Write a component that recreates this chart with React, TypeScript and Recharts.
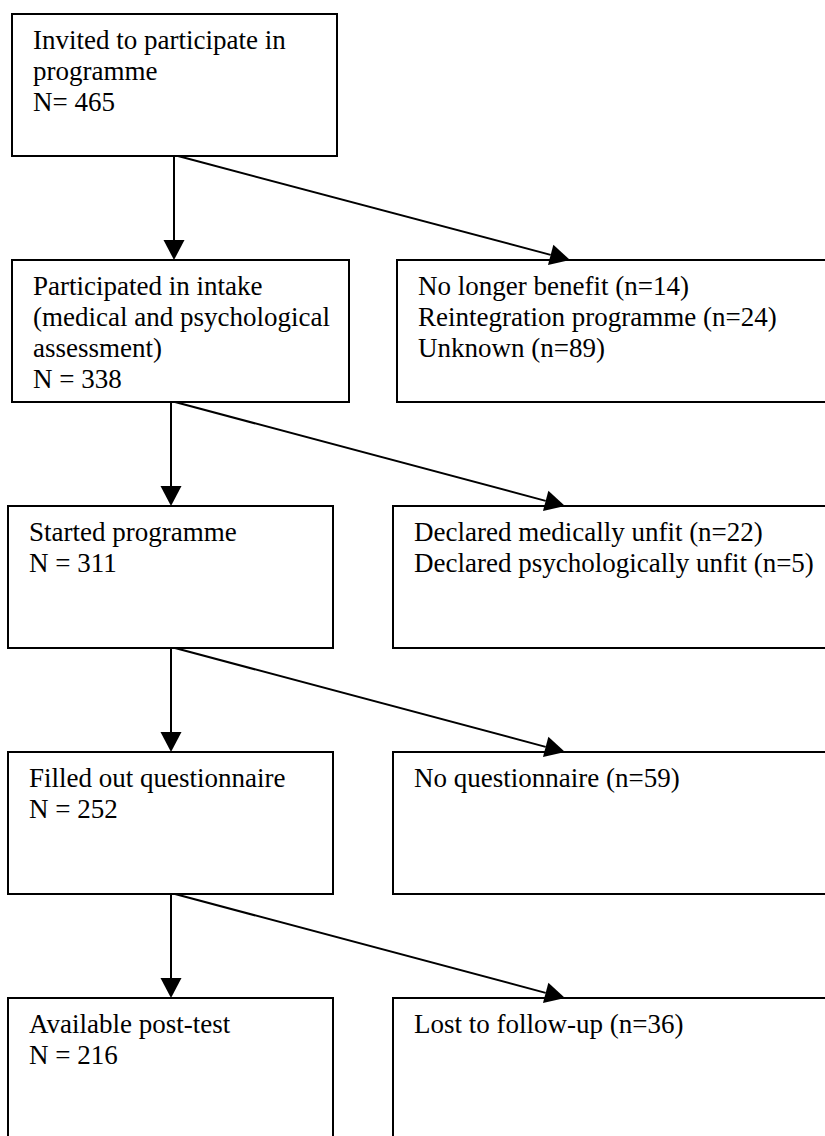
import { ComposedChart, ReferenceArea, ReferenceLine, XAxis, YAxis } from "recharts";

// flow of participants, top to bottom
const stageLabels = [
  ["Invited to participate in", "programme"],
  ["Participated in intake", "(medical and psychological", "assessment)"],
  ["Started programme"],
  ["Filled out questionnaire"],
  ["Available post-test"],
];
const stageCounts = [465, 338, 311, 252, 216];

// reasons for dropping out between two stages
const exclusionReasons = [
  ["No longer benefit", "Reintegration programme", "Unknown"],
  ["Declared medically unfit", "Declared psychologically unfit"],
  ["No questionnaire"],
  ["Lost to follow-up"],
];
const exclusionCounts = [[14, 24, 89], [22, 5], [59], [36]];

// layout, in page pixels
const WIDTH = 825;
const HEIGHT = 1136;
const ROW_START = 14;
const ROW_STEP = 246;
const BOX_HEIGHT = 142;
const leftBoxEdges = [
  [12, 337],
  [12, 349],
  [8, 333],
  [8, 333],
  [8, 333],
];
const rightBoxLeft = [397, 393, 393, 393];
const downArrowX = [174, 171, 171, 171];
const sideArrowEndX = [570, 565, 565, 565];

const FONT = '"Liberation Serif", "Times New Roman", serif';
const rowTop = (i: number) => ROW_START + i * ROW_STEP;
const countText = (n: number, i: number) => (i === 0 ? `N= ${n}` : `N = ${n}`);

function boxShape(lines: string[]) {
  return (props: any) => {
    const { x, y, width, height } = props;
    return (
      <g>
        <rect x={x} y={y} width={width} height={height} fill="#fff" stroke="#000" strokeWidth={2} />
        <text x={x + 21} y={y + 35} fontFamily={FONT} fontSize={27} fill="#000">
          {lines.map((line, i) => (
            <tspan key={i} x={x + 21} dy={i === 0 ? 0 : 31}>
              {line}
            </tspan>
          ))}
        </text>
      </g>
    );
  };
}

function arrowShape(props: any) {
  const { x1, y1, x2, y2 } = props;
  const len = Math.hypot(x2 - x1, y2 - y1);
  const ux = (x2 - x1) / len;
  const uy = (y2 - y1) / len;
  const bx = x2 - ux * 20;
  const by = y2 - uy * 20;
  const hw = 10.5;
  const points = `${x2},${y2} ${bx - uy * hw},${by + ux * hw} ${bx + uy * hw},${by - ux * hw}`;
  return (
    <g>
      <line x1={x1} y1={y1} x2={bx} y2={by} stroke="#000" strokeWidth={2} />
      <polygon points={points} fill="#000" />
    </g>
  );
}

export default function App() {
  return (
    <div style={{ position: "absolute", left: 0, top: 0, background: "#fff" }}>
      <ComposedChart width={WIDTH} height={HEIGHT} margin={{ top: 0, right: 0, bottom: 0, left: 0 }}>
        <XAxis type="number" dataKey="x" domain={[0, WIDTH]} hide allowDataOverflow />
        <YAxis type="number" dataKey="y" domain={[0, HEIGHT]} hide reversed allowDataOverflow />

        {stageLabels.map((label, i) => (
          <ReferenceArea
            key={`stage-${i}`}
            x1={leftBoxEdges[i][0]}
            x2={leftBoxEdges[i][1]}
            y1={rowTop(i)}
            y2={Math.min(rowTop(i) + BOX_HEIGHT, HEIGHT + 20)}
            ifOverflow="visible"
            shape={boxShape([...label, countText(stageCounts[i], i)])}
          />
        ))}

        {exclusionReasons.map((reasons, i) => (
          <ReferenceArea
            key={`excl-${i}`}
            x1={rightBoxLeft[i]}
            x2={WIDTH + 20}
            y1={rowTop(i + 1)}
            y2={rowTop(i + 1) + BOX_HEIGHT}
            ifOverflow="visible"
            shape={boxShape(reasons.map((r, j) => `${r} (n=${exclusionCounts[i][j]})`))}
          />
        ))}

        {downArrowX.map((x, i) => (
          <ReferenceLine
            key={`down-${i}`}
            segment={[
              { x, y: rowTop(i) + BOX_HEIGHT },
              { x, y: rowTop(i + 1) },
            ]}
            ifOverflow="visible"
            shape={arrowShape}
          />
        ))}

        {sideArrowEndX.map((x, i) => (
          <ReferenceLine
            key={`side-${i}`}
            segment={[
              { x: downArrowX[i] + 4, y: rowTop(i) + BOX_HEIGHT },
              { x, y: rowTop(i + 1) },
            ]}
            ifOverflow="visible"
            shape={arrowShape}
          />
        ))}
      </ComposedChart>
    </div>
  );
}
